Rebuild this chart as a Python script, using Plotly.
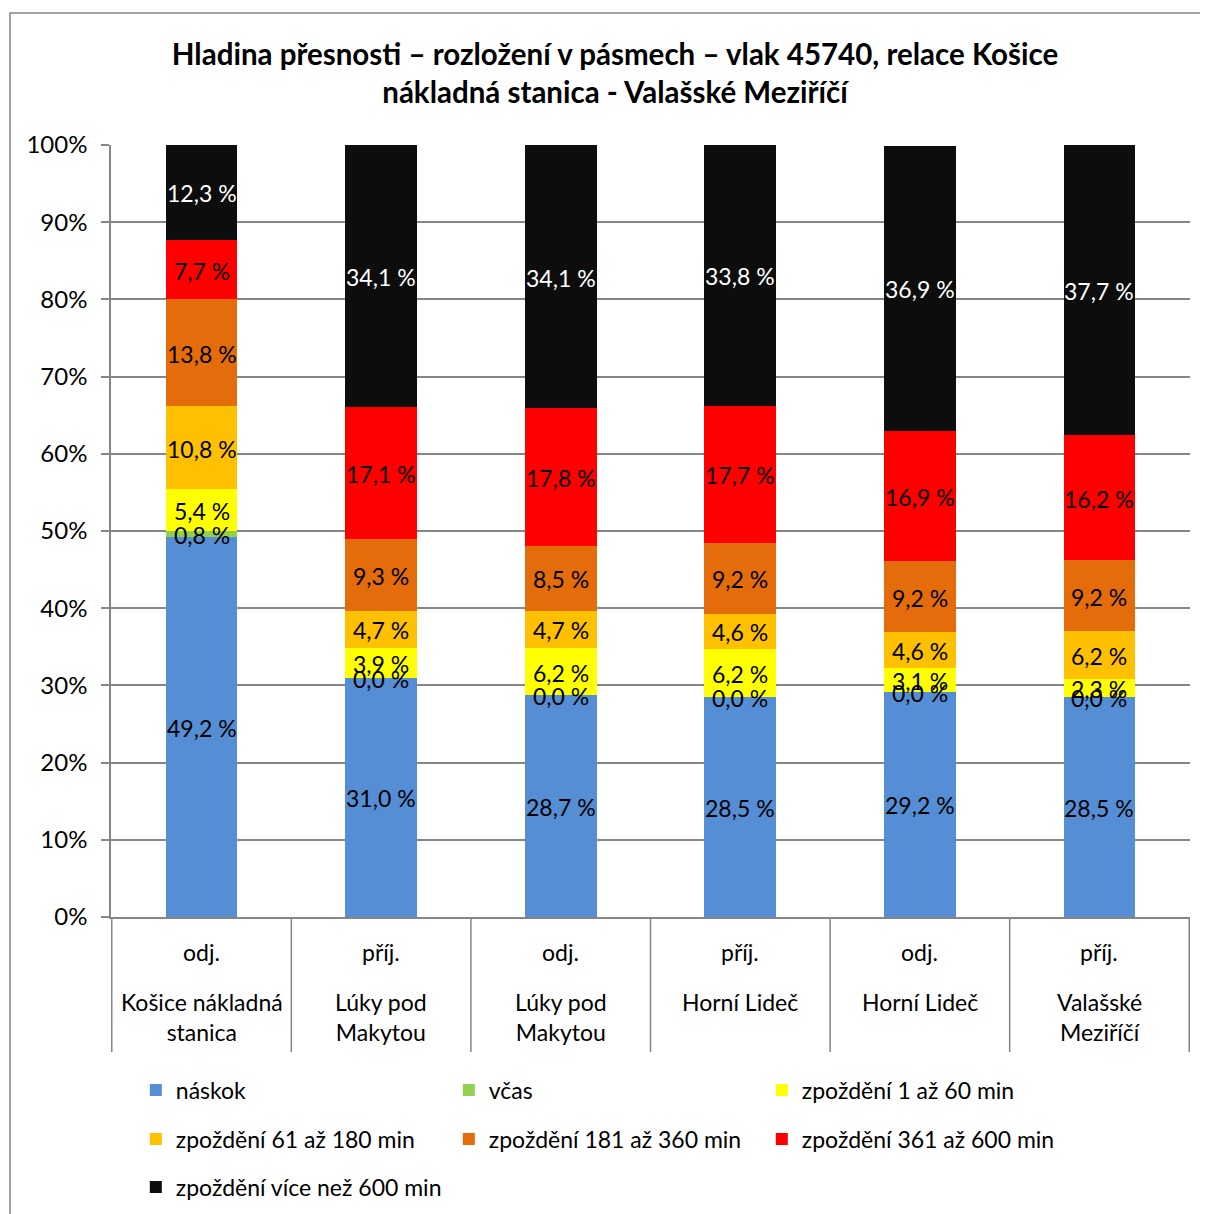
import plotly.graph_objects as go
import numpy as np

directions = ["odj.", "příj.", "odj.", "příj.", "odj.", "příj."]
stations = ["Košice nákladná<br>stanica", "Lúky pod<br>Makytou", "Lúky pod<br>Makytou",
            "Horní Lideč", "Horní Lideč", "Valašské<br>Meziříčí"]

series_names = ["náskok", "včas", "zpoždění 1 až 60 min", "zpoždění 61 až 180 min",
                "zpoždění 181 až 360 min", "zpoždění 361 až 600 min", "zpoždění více než 600 min"]

naskok = [49.2, 31.0, 28.7, 28.5, 29.2, 28.5]
vcas = [0.8, 0.0, 0.0, 0.0, 0.0, 0.0]
zp_1_60 = [5.4, 3.9, 6.2, 6.2, 3.1, 2.3]
zp_61_180 = [10.8, 4.7, 4.7, 4.6, 4.6, 6.2]
zp_181_360 = [13.8, 9.3, 8.5, 9.2, 9.2, 9.2]
zp_361_600 = [7.7, 17.1, 17.8, 17.7, 16.9, 16.2]
zp_600 = [12.3, 34.1, 34.1, 33.8, 36.9, 37.7]

colors = ["#558ED5", "#92D050", "#FFFF00", "#FFC000", "#E46C0A", "#FF0000", "#0D0D0D"]
label_colors = ["#000000"] * 6 + ["#FFFFFF"]
legend_ids = ["legend", "legend", "legend", "legend2", "legend2", "legend2", "legend3"]

series = [naskok, vcas, zp_1_60, zp_61_180, zp_181_360, zp_361_600, zp_600]
xkeys = [f"{d} {s}" for d, s in zip(directions, stations)]

FONT = "Lato"
fig = go.Figure()
for name, vals, col, lg in zip(series_names, series, colors, legend_ids):
    fig.add_trace(go.Bar(x=xkeys, y=vals, name=name, marker=dict(color=col, line=dict(width=0)),
                         legend=lg))

annotations = []
# data labels at segment centres
arr = np.array(series)
cum = np.cumsum(arr, axis=0)
mids = cum - arr / 2
for i in range(arr.shape[0]):
    for j in range(arr.shape[1]):
        annotations.append(dict(x=xkeys[j], y=mids[i, j], xref="x", yref="y",
                                text=f"{arr[i, j]:.1f}".replace(".", ",") + " %",
                                showarrow=False, yshift=-1,
                                font=dict(family=FONT, size=23, color=label_colors[i])))

grey = "#868686"
shapes = []
for k in range(7):
    shapes.append(dict(type="line", xref="x", yref="paper", x0=k - 0.5, x1=k - 0.5,
                       y0=0, y1=-0.175, line=dict(color=grey, width=1.5)))
# outer chart border
shapes.append(dict(type="rect", xref="paper", yref="paper", x0=-0.0936, x1=1.1,
                   y0=-0.45, y1=1.171, line=dict(color=grey, width=1.5), fillcolor="rgba(0,0,0,0)",
                   layer="below"))

for key, d, s in zip(xkeys, directions, stations):
    annotations.append(dict(x=key, xref="x", yref="paper", y=-0.0453, text=d, showarrow=False,
                            yanchor="middle", font=dict(family=FONT, size=23, color="#000")))
    annotations.append(dict(x=key, xref="x", yref="paper", y=-0.089, text=s, showarrow=False,
                            yanchor="top", font=dict(family=FONT, size=23, color="#000")))

leg_common = dict(orientation="h", xanchor="left", yanchor="middle", x=0.023,
                  entrywidth=268, entrywidthmode="pixels", bgcolor="rgba(0,0,0,0)",
                  traceorder="normal",
                  font=dict(family=FONT, size=23, color="#000"), itemsizing="constant")

fig.update_layout(
    width=1208, height=1214,
    margin=dict(l=103, r=26, t=137, b=305),
    paper_bgcolor="white", plot_bgcolor="white",
    barmode="stack", bargap=0.6,
    title=dict(text="<b>Hladina přesnosti – rozložení v pásmech – vlak 45740, relace Košice<br>"
                    "nákladná stanica - Valašské Meziříčí</b>",
               x=0.5025, xanchor="center", y=0.953, yanchor="middle",
               font=dict(family=FONT, size=29.5, color="#000")),
    xaxis=dict(showticklabels=False, showline=True, linecolor=grey, linewidth=1.5,
               showgrid=False, ticks=""),
    yaxis=dict(range=[0, 100], dtick=10, ticksuffix="%", showgrid=True, gridcolor=grey,
               gridwidth=1.5, showline=True, linecolor=grey, linewidth=1.5, ticks="outside",
               ticklen=8, tickcolor=grey, tickwidth=1.5, zeroline=False, ticklabelstandoff=9,
               tickfont=dict(family=FONT, size=24, color="#000")),
    legend=dict(y=(917 - 1090) / 772, **leg_common),
    legend2=dict(y=(917 - 1139) / 772, **leg_common),
    legend3=dict(y=(917 - 1187) / 772, **leg_common),
    shapes=shapes, annotations=annotations, showlegend=True,
)

fig.write_html("out.html")
